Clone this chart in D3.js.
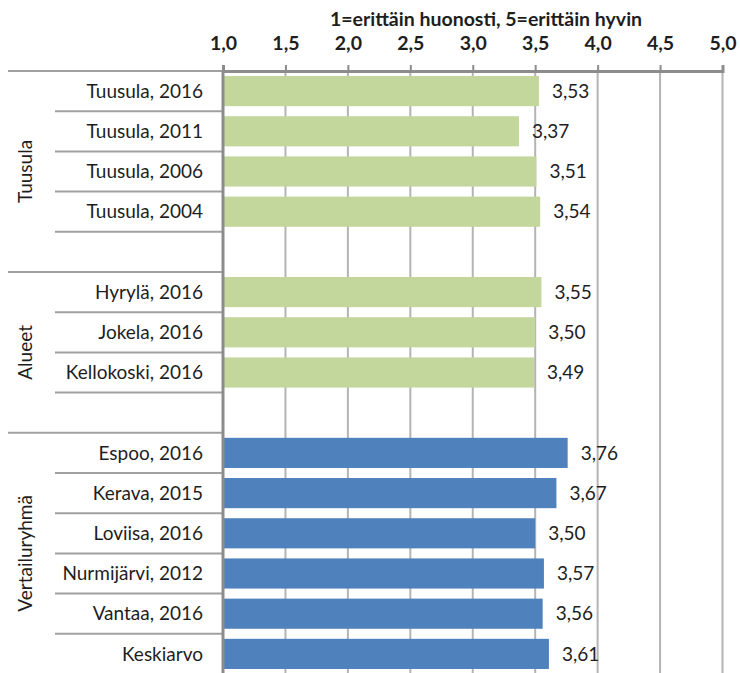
<!DOCTYPE html>
<html>
<head>
<meta charset="utf-8">
<script src="https://cdn.jsdelivr.net/npm/d3@7"></script>
<style>
  body { margin: 0; background: #fff; }
  text { font-family: Lato, "Open Sans", sans-serif; fill: #1e1e1e; }
</style>
</head>
<body>
<div id="chart"></div>
<script>
// rows of the chart, blank rows separate the groups
var labels = ["Tuusula, 2016", "Tuusula, 2011", "Tuusula, 2006", "Tuusula, 2004", "",
              "Hyrylä, 2016", "Jokela, 2016", "Kellokoski, 2016", "",
              "Espoo, 2016", "Kerava, 2015", "Loviisa, 2016", "Nurmijärvi, 2012", "Vantaa, 2016", "Keskiarvo"];
var values = [3.53, 3.37, 3.51, 3.54, null,
              3.55, 3.50, 3.49, null,
              3.76, 3.67, 3.50, 3.57, 3.56, 3.61];
var rowGroup = [0, 0, 0, 0, 0, 1, 1, 1, 1, 2, 2, 2, 2, 2, 2];
var groups = ["Tuusula", "Alueet", "Vertailuryhmä"];
var ticks = [1.0, 1.5, 2.0, 2.5, 3.0, 3.5, 4.0, 4.5, 5.0];
var title = "1=erittäin huonosti, 5=erittäin hyvin";

var width = 740, height = 673;
var plotLeft = 223, plotRight = 722.5, plotTop = 71, rowH = 40.2;
var plotBottom = plotTop + rowH * labels.length;

var svg = d3.select("#chart").append("svg")
    .attr("width", width)
    .attr("height", height);

var x = d3.scaleLinear().domain([1, 5]).range([plotLeft, plotRight]);
var y = d3.scaleBand()
    .domain(d3.range(labels.length))
    .range([plotTop, plotBottom])
    .paddingInner(0.25)
    .paddingOuter(0.125);

var comma = function(f) { return function(v) { return d3.format(f)(v).replace(".", ","); }; };

// vertical gridlines
svg.selectAll(".grid")
    .data(ticks.slice(1))
    .enter().append("line")
    .attr("x1", function(d) { return x(d); })
    .attr("x2", function(d) { return x(d); })
    .attr("y1", plotTop)
    .attr("y2", height)
    .style("stroke", "#b4b4b4")
    .style("stroke-width", 2);

// top axis
var axis = d3.axisTop(x)
    .tickValues(ticks)
    .tickSize(6)
    .tickPadding(15)
    .tickFormat(comma(".1f"));

var ax = svg.append("g")
    .attr("transform", "translate(0," + plotTop + ")")
    .call(axis);
ax.select(".domain").style("stroke", "#8c8c8c").style("stroke-width", 3);
ax.selectAll(".tick line").style("stroke", "#8c8c8c").style("stroke-width", 2);
ax.selectAll(".tick text")
    .style("font-size", "19.5px")
    .style("font-weight", "bold")
    .attr("fill", "#1e1e1e");

svg.append("text")
    .attr("x", 486)
    .attr("y", 26)
    .attr("text-anchor", "middle")
    .style("font-size", "19.5px")
    .style("font-weight", "bold")
    .text(title);

// row separators in the label area
var bounds = d3.range(labels.length + 1);
svg.selectAll(".sep")
    .data(bounds)
    .enter().append("line")
    .attr("x1", function(k) {
        return (k == 0 || rowGroup[k] != rowGroup[k - 1]) ? 8 : 55;
    })
    .attr("x2", plotLeft)
    .attr("y1", function(k) { return plotTop + k * rowH; })
    .attr("y2", function(k) { return plotTop + k * rowH; })
    .style("stroke", "#a0a0a0")
    .style("stroke-width", 2);

// bars
var rows = d3.range(labels.length).filter(function(i) { return values[i] != null; });

svg.selectAll(".bar")
    .data(rows)
    .enter().append("rect")
    .attr("x", x(1))
    .attr("y", function(i) { return y(i); })
    .attr("width", function(i) { return x(values[i]) - x(1); })
    .attr("height", y.bandwidth())
    .style("fill", function(i) { return rowGroup[i] == 2 ? "#4f81bd" : "#c3d69b"; });

// left axis line
svg.append("line")
    .attr("x1", plotLeft).attr("x2", plotLeft)
    .attr("y1", plotTop - 1).attr("y2", height)
    .style("stroke", "#8c8c8c")
    .style("stroke-width", 3);

// value labels
svg.selectAll(".val")
    .data(rows)
    .enter().append("text")
    .attr("x", function(i) { return x(values[i]) + 13; })
    .attr("y", function(i) { return y(i) + y.bandwidth() / 2; })
    .attr("dy", "0.35em")
    .style("font-size", "19px")
    .text(function(i) { return comma(".2f")(values[i]); });

// category labels
svg.selectAll(".cat")
    .data(d3.range(labels.length))
    .enter().append("text")
    .attr("x", 203)
    .attr("y", function(i) { return y(i) + y.bandwidth() / 2; })
    .attr("dy", "0.35em")
    .attr("text-anchor", "end")
    .style("font-size", "19px")
    .text(function(i) { return labels[i]; });

// group labels, rotated
svg.selectAll(".grp")
    .data(groups)
    .enter().append("text")
    .attr("transform", function(g, gi) {
        var idx = rowGroup.map(function(v, i) { return v == gi ? i : -1; }).filter(function(i) { return i >= 0; });
        var cy = plotTop + rowH * (idx[0] + idx[idx.length - 1] + 1) / 2;
        return "translate(25," + cy + ") rotate(-90)";
    })
    .attr("text-anchor", "middle")
    .attr("dy", "0.35em")
    .style("font-size", "19px")
    .text(function(g) { return g; });
</script>
</body>
</html>
